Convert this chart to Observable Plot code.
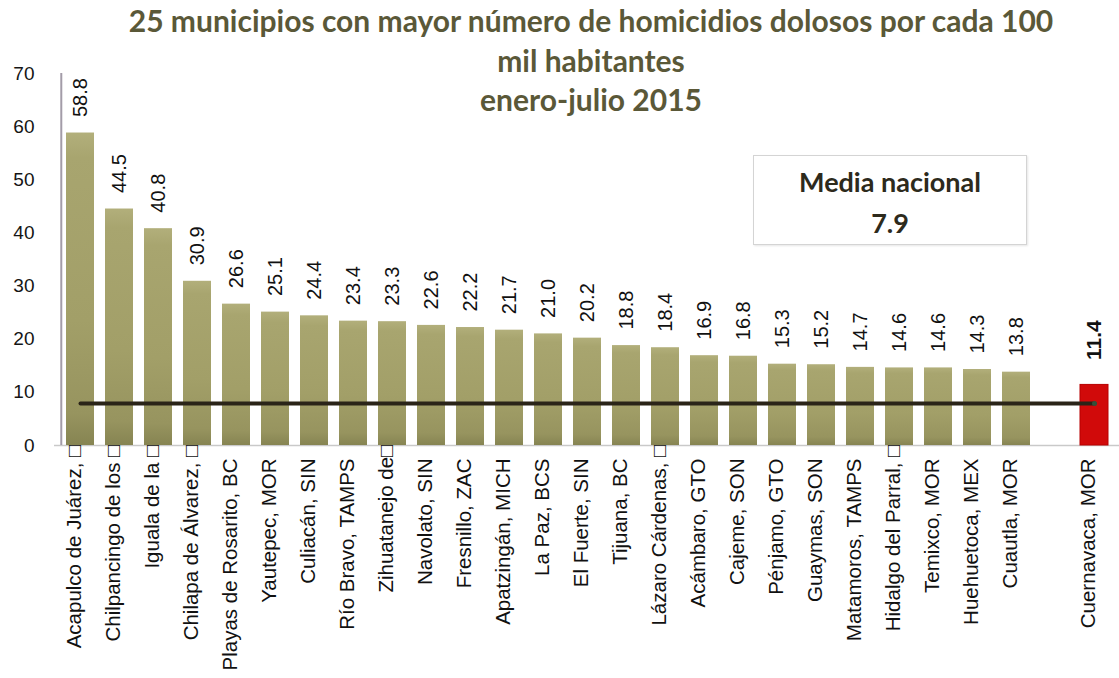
<!DOCTYPE html>
<html><head><meta charset="utf-8">
<script src="https://cdn.jsdelivr.net/npm/d3@7"></script>
<script src="https://cdn.jsdelivr.net/npm/@observablehq/plot@0.6"></script>
<style>
body{margin:0;background:#fff;}
#wrap{position:relative;width:1119px;height:678px;overflow:hidden;}
#title{position:absolute;left:0;top:1px;width:1182px;text-align:center;font-family:Lato,"Open Sans",sans-serif;font-weight:bold;font-size:30px;line-height:39.5px;color:#5a5838;}
#media{position:absolute;left:753px;top:155px;width:272px;height:88px;border:1.5px solid #d4d4d4;box-shadow:1px 1px 2px #e6e6e6;font-family:Lato,"Open Sans",sans-serif;font-weight:bold;color:#2d2a1c;text-align:center;}
#media .l1{position:absolute;left:0;right:0;top:10px;font-size:27px;line-height:1.2;}
#media .l2{position:absolute;left:0;right:0;top:51px;font-size:27px;line-height:1.2;}
</style>
</head><body>
<div id="wrap"><div id="chart"></div><div id="title"></div><div id="media"><div class="l1"></div><div class="l2"></div></div></div>
<script>
const titulo = ["25 municipios con mayor número de homicidios dolosos por cada 100", "mil habitantes", "enero-julio 2015"];
const municipios = ["Acapulco de Juárez, □", "Chilpancingo de los □", "Iguala de la □", "Chilapa de Álvarez, □", "Playas de Rosarito, BC", "Yautepec, MOR", "Culiacán, SIN", "Río Bravo, TAMPS", "Zihuatanejo de□", "Navolato, SIN", "Fresnillo, ZAC", "Apatzingán, MICH", "La Paz, BCS", "El Fuerte, SIN", "Tijuana, BC", "Lázaro Cárdenas, □", "Acámbaro, GTO", "Cajeme, SON", "Pénjamo, GTO", "Guaymas, SON", "Matamoros, TAMPS", "Hidalgo del Parral, □", "Temixco, MOR", "Huehuetoca, MEX", "Cuautla, MOR"];
const valores = [58.8, 44.5, 40.8, 30.9, 26.6, 25.1, 24.4, 23.4, 23.3, 22.6, 22.2, 21.7, 21.0, 20.2, 18.8, 18.4, 16.9, 16.8, 15.3, 15.2, 14.7, 14.6, 14.6, 14.3, 13.8];
const destacado = "Cuernavaca, MOR";
const valorDestacado = 11.4;
const mediaLabel = "Media nacional";
const mediaNacional = 7.9;
const yTicks = [0, 10, 20, 30, 40, 50, 60, 70];

document.getElementById("title").innerHTML = titulo.join("<br>");
document.querySelector("#media .l1").textContent = mediaLabel;
document.querySelector("#media .l2").textContent = mediaNacional.toFixed(1);

const bars = municipios.map((m, i) => ({m, v: valores[i]}));
const highlight = [{m: destacado, v: valorDestacado}];
const domain = [...municipios, " ", destacado];
const hasBox = d => d.m.includes("□");
const font = "'Liberation Sans', 'DejaVu Sans', Arial, sans-serif";
const step = (1119 - 54) / domain.length;

const chart = Plot.plot({
  width: 1119, height: 678,
  marginLeft: 54, marginRight: 0, marginTop: 73, marginBottom: 233,
  style: {fontFamily: font, fontSize: "19px", color: "#151515", background: "transparent"},
  x: {domain, paddingInner: 0.29, paddingOuter: 0.145, axis: null},
  y: {domain: [0, 70], ticks: yTicks, tickSize: 0, tickPadding: 20, label: null},
  marks: [
    Plot.ruleY([0], {stroke: "#c9c9c9", strokeWidth: 1.5}),
    Plot.ruleX([municipios[0]], {y1: 0, y2: yTicks[yTicks.length - 1], dx: -step / 2 + 0.5, stroke: "#a39ca8", strokeWidth: 2}),
    Plot.barY(bars, {x: "m", y: "v", fill: "url(#olive)"}),
    Plot.barY(highlight, {x: "m", y: "v", fill: "#d10a0a", stroke: "#b80000", strokeWidth: 1}),
    Plot.line([{m: municipios[0], v: mediaNacional}, {m: destacado, v: mediaNacional}], {x: "m", y: "v", stroke: "#2a2418", strokeWidth: 4}),
    Plot.dot([{m: destacado, v: mediaNacional}], {x: "m", y: "v", r: 2.5, fill: "#34503a"}),
    Plot.text(bars, {x: "m", y: "v", text: d => d.v.toFixed(1), rotate: -90, textAnchor: "start", dy: -16, fontSize: 20, fill: "#111"}),
    Plot.text(highlight, {x: "m", y: "v", text: d => d.v.toFixed(1), rotate: -90, textAnchor: "start", dy: -25, fontSize: 21, fontWeight: "bold", fill: "#111"}),
    Plot.text(bars.filter(d => !hasBox(d)).concat(highlight), {x: "m", text: "m", frameAnchor: "bottom", rotate: -90, textAnchor: "end", dy: 13, fontSize: 20.5, fill: "#111"}),
    Plot.text(bars.filter(hasBox), {x: "m", text: "m", frameAnchor: "bottom", rotate: -90, textAnchor: "end", dy: -1, fontSize: 20.5, fill: "#111"})
  ]
});

const ns = "http://www.w3.org/2000/svg";
const defs = document.createElementNS(ns, "defs");
defs.innerHTML = `<linearGradient id="olive" x1="0" y1="0" x2="0" y2="1">
  <stop offset="0" stop-color="#b2af7b"/>
  <stop offset="0.08" stop-color="#a8a56f"/>
  <stop offset="0.6" stop-color="#a29f68"/>
  <stop offset="0.9" stop-color="#97945f"/>
  <stop offset="1" stop-color="#868452"/>
</linearGradient>`;
chart.insertBefore(defs, chart.firstChild);
document.getElementById("chart").appendChild(chart);
</script>
</body></html>
